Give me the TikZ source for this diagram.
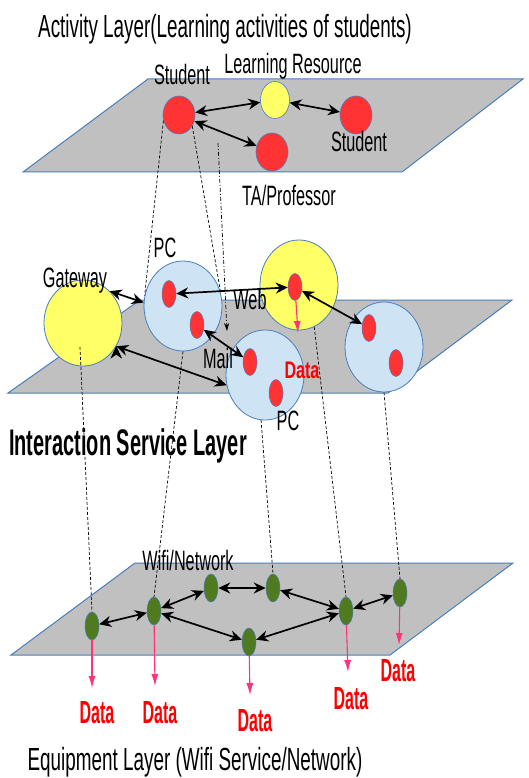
\documentclass[tikz,border=0pt]{standalone}
\usepackage{fontspec}
\setmainfont{Liberation Sans}
\usepackage{graphicx}
\usetikzlibrary{arrows.meta,shapes.geometric,calc}
\definecolor{planegray}{RGB}{192,192,192}
\definecolor{rim}{RGB}{74,126,187}
\definecolor{dotred}{RGB}{255,51,51}
\definecolor{lyellow}{RGB}{255,255,102}
\definecolor{lblue}{RGB}{206,228,245}
\definecolor{netgreen}{RGB}{79,122,32}
\definecolor{datapink}{RGB}{255,51,119}
\newcommand{\sq}[2][0.58]{\scalebox{#1}[1]{#2}}
\tikzstyle{layer}=[fill=planegray,draw=rim,line width=1pt]
\tikzstyle{actor}=[ellipse,draw=rim,line width=0.6pt,fill=dotred,minimum width=32pt,minimum height=38pt,inner sep=0pt]
\tikzstyle{host}=[ellipse,draw=rim,line width=0.8pt,fill=lblue,minimum width=78pt,minimum height=90pt,inner sep=0pt]
\tikzstyle{dot}=[ellipse,draw=rim,line width=0.5pt,fill=dotred,minimum width=14pt,minimum height=27pt,inner sep=0pt]
\tikzstyle{wifi}=[dot,fill=netgreen,minimum height=28pt]
\tikzstyle{lbl}=[font=\fontsize{28}{28}\selectfont,inner sep=0pt,anchor=base]
\tikzstyle{datalbl}=[font=\bfseries\fontsize{32}{32}\selectfont,text=red,inner sep=0pt,anchor=base]
\tikzstyle{link}=[draw,line width=1.7pt,{Stealth[length=12pt,width=11pt]}-{Stealth[length=12pt,width=11pt]}]
\tikzstyle{feed}=[draw=datapink,line width=1.1pt,-{Latex[length=12pt,width=7pt]}]
\tikzstyle{drop}=[draw,line width=0.7pt,dash pattern=on 3pt off 2pt]

\begin{document}
\begin{tikzpicture}[x=1pt,y=-1pt]
  \useasboundingbox (0,0) rectangle (529,778);
  \draw[layer] (23,172) -- (148,79) -- (523,79) -- (402,172) -- cycle;
  \draw[layer] (8,393) -- (140,300) -- (512,300) -- (388,393) -- cycle;
  \draw[layer] (11,655) -- (135,563) -- (513,563) -- (390,655) -- cycle;

  \node[actor]        (stu1) at (179,115) {};
  \node[actor,fill=lyellow,minimum width=29pt,minimum height=37pt] (res) at (275,100) {};
  \node[actor]        (stu2) at (356,115) {};
  \node[actor]        (ta)   at (272,152) {};
  \node[lbl,font=\fontsize{32}{32}\selectfont] (ttl1) at (225,38) {\sq[0.59]{Activity Layer(Learning activities of students)}};
  \node[lbl] (lstu1) at (182,85)  {\sq{Student}};
  \node[lbl] (lres)  at (293,74)  {\sq{Learning Resource}};
  \node[lbl] (lstu2) at (359,152) {\sq{Student}};
  \node[lbl] (lta)   at (289,205) {\sq{TA/Professor}};

  \node[host,fill=lyellow,minimum height=86pt] (gw) at (83,323) {};
  \node[host]              (pc1) at (183,306) {};
  \node[host,fill=lyellow] (web) at (299,285) {};
  \node[host]              (pc2) at (265,375) {};
  \node[host]              (pc3) at (384,347) {};
  \node[dot] (p11) at (169,294) {};
  \node[dot] (p12) at (197,325) {};
  \node[dot] (wd)  at (295,287) {};
  \node[dot] (p21) at (250,362) {};
  \node[dot] (p22) at (276,393) {};
  \node[dot] (p31) at (369,328) {};
  \node[dot] (p32) at (396,363) {};
  \node[lbl] (lpc1) at (165,257) {\sq{PC}};
  \node[lbl] (lgw)  at (75,287)  {\sq{Gateway}};
  \node[lbl] (lweb) at (250,309) {\sq{Web}};
  \node[lbl] (lmail) at (218,368) {\sq{Mail}};
  \node[lbl] (lpc2) at (288,430) {\sq{PC}};
  \node[datalbl,font=\bfseries\fontsize{24}{24}\selectfont] (dm) at (302,378) {\sq[0.67]{Data}};
  \node[lbl,font=\bfseries\fontsize{37}{37}\selectfont] (ttl2) at (128,455) {\sq[0.54]{Interaction Service Layer}};

  \node[wifi] (w1) at (92,626) {};
  \node[wifi] (w2) at (154,611) {};
  \node[wifi] (w3) at (211,588) {};
  \node[wifi] (w4) at (273,588) {};
  \node[wifi] (w5) at (249,642) {};
  \node[wifi] (w6) at (346,611) {};
  \node[wifi] (w7) at (400,593) {};
  \node[lbl] (lwifi) at (188,570) {\sq{Wifi/Network}};
  \node[datalbl] (d1) at (97,723) {\sq[0.5]{Data}};
  \node[datalbl] (d2) at (160,723) {\sq[0.5]{Data}};
  \node[datalbl] (d3) at (255,731) {\sq[0.5]{Data}};
  \node[datalbl] (d4) at (351,709) {\sq[0.5]{Data}};
  \node[datalbl] (d5) at (398,681) {\sq[0.5]{Data}};
  \node[lbl,font=\fontsize{32}{32}\selectfont] (ttl3) at (195,770) {\sq[0.59]{Equipment Layer (Wifi Service/Network)}};

  \coordinate (ddA) at (218,143);
  \coordinate (ddB) at (227,331);
  \path[drop] (stu1.200) edge (pc1.165)
    (stu1.-40) edge (pc1.20)
    ($(gw.center)+(-3,24)$) edge (w1.north)
    (pc1.south) edge (w2.north)
    (pc2.-95) edge (w4.north)
    (web.-70) edge (w6.north)
    (pc3.south) edge (w7.north);
  \draw[line width=0.7pt,dash pattern=on 4pt off 2pt on 1pt off 2pt,-{Stealth[length=8pt,width=5pt]}] (ddA) -- (ddB);

  \path[link] (stu1) edge (res)
    (res) edge (stu2)
    (stu1) edge (ta);
  \path[link] (gw.50) edge (pc1.175)
    (gw.-35) edge (pc2.195)
    (p11) edge (wd)
    (wd) edge (p31)
    (p12) edge (p21);
  \path[link] (w1) edge (w2)
    (w2) edge (w3)
    (w3) edge (w4)
    (w4) edge (w6)
    (w2) edge (w5)
    (w5) edge (w6)
    (w6) edge (w7);

  \coordinate (tm) at (298,333);
  \coordinate (t1) at (92,688);
  \coordinate (t2) at (155,686);
  \coordinate (t3) at (250,695);
  \coordinate (t4) at (348,672);
  \coordinate (t5) at (399,645);
  \draw[feed] (wd) -- (tm);
  \draw[feed] (w1) -- (t1);
  \draw[feed] (w2) -- (t2);
  \draw[feed] (w5) -- (t3);
  \draw[feed] (w6) -- (t4);
  \draw[feed] (w7) -- (t5);
\end{tikzpicture}
\end{document}
